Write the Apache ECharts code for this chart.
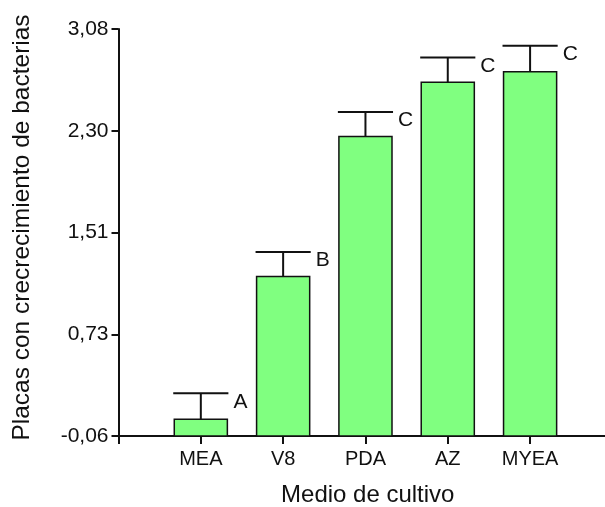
<!DOCTYPE html>
<html>
<head>
<meta charset="utf-8">
<script src="https://cdn.jsdelivr.net/npm/echarts@6/dist/echarts.min.js"></script>
<style>html,body{margin:0;padding:0;background:#fff}#c{width:605px;height:507px}</style>
</head>
<body>
<div id="c"></div>
<script>
var categories = ['MEA', 'V8', 'PDA', 'AZ', 'MYEA'];
var means = [0.07, 1.17, 2.25, 2.67, 2.75];
var errors = [0.20, 0.19, 0.19, 0.19, 0.20];
var groups = ['A', 'B', 'C', 'C', 'C'];
var yTickValues = [-0.06, 0.725, 1.51, 2.295, 3.08];
var yTickLabels = ['-0,06', '0,73', '1,51', '2,30', '3,08'];
var xTickValues = [-1, 0, 1, 2, 3, 4];
var xLabelValues = [0, 1, 2, 3, 4];

var FONT = 'Liberation Sans, Arial, sans-serif';
var Y_MIN = yTickValues[0], Y_MAX = yTickValues[yTickValues.length - 1];
var chart = echarts.init(document.getElementById('c'), null, {renderer: 'canvas'});

var seriesData = means.map(function (v, i) { return [i, v, errors[i]]; });

function renderBar(params, api) {
  var x = api.value(0), y = api.value(1);
  var p0 = api.coord([x, Y_MIN]);
  var p1 = api.coord([x, y]);
  var w = api.size([0.645, 0])[0];
  return {
    type: 'rect',
    shape: {x: p0[0] - w / 2, y: p1[1], width: w, height: p0[1] - p1[1]},
    style: {fill: '#80FF80', stroke: '#111', lineWidth: 1.5}
  };
}

function renderErr(params, api) {
  var x = api.value(0), y = api.value(1), e = api.value(2);
  var base = api.coord([x, y]);
  var top = api.coord([x, y + e]);
  var half = api.size([0.67, 0])[0] / 2;
  var st = {stroke: '#111', lineWidth: 2};
  return {
    type: 'group',
    children: [
      {type: 'line', shape: {x1: base[0], y1: base[1], x2: top[0], y2: top[1]}, style: st},
      {type: 'line', shape: {x1: top[0] - half, y1: top[1], x2: top[0] + half, y2: top[1]}, style: st},
      {type: 'text', x: top[0] + half + 5, y: top[1] - 2,
       style: {text: groups[params.dataIndex], fill: '#111', font: '21px ' + FONT, verticalAlign: 'top', align: 'left'}}
    ]
  };
}

chart.setOption({
  animation: false,
  backgroundColor: '#fff',
  grid: {left: 118.5, right: 0, top: 29, bottom: 71, containLabel: false, outerBoundsMode: 'none'},
  xAxis: {
    type: 'value', min: -1, max: 4.91,
    name: 'Medio de cultivo', nameLocation: 'middle', nameGap: 47,
    nameTextStyle: {fontFamily: FONT, fontSize: 24, color: '#111', padding: [0, 0, 0, 12]},
    axisLine: {show: true, onZero: false, lineStyle: {color: '#111', width: 2}},
    axisTick: {show: true, length: 8, customValues: xTickValues, lineStyle: {color: '#111', width: 2}},
    axisLabel: {customValues: xLabelValues, margin: 13, fontFamily: FONT, fontSize: 20, color: '#111',
      formatter: function (v) { return categories[Math.round(v)] || ''; }},
    splitLine: {show: false}
  },
  yAxis: {
    type: 'value', min: Y_MIN, max: Y_MAX,
    name: 'Placas con crecrecimiento de bacterias', nameLocation: 'middle', nameGap: 84, nameRotate: 90,
    nameTextStyle: {fontFamily: FONT, fontSize: 24.5, color: '#111', padding: [0, 0, 0, 10]},
    axisLine: {show: true, onZero: false, lineStyle: {color: '#111', width: 2}},
    axisTick: {show: true, length: 7, customValues: yTickValues, lineStyle: {color: '#111', width: 2}},
    axisLabel: {customValues: yTickValues, margin: 10, fontFamily: FONT, fontSize: 21, color: '#111',
      formatter: function (v) {
        for (var i = 0; i < yTickValues.length; i++) { if (Math.abs(yTickValues[i] - v) < 1e-6) return yTickLabels[i]; }
        return '';
      }},
    splitLine: {show: false}
  },
  series: [
    {type: 'custom', data: seriesData, renderItem: renderBar, z: 2},
    {type: 'custom', data: seriesData, renderItem: renderErr, z: 3, clip: false}
  ]
});
</script>
</body>
</html>
